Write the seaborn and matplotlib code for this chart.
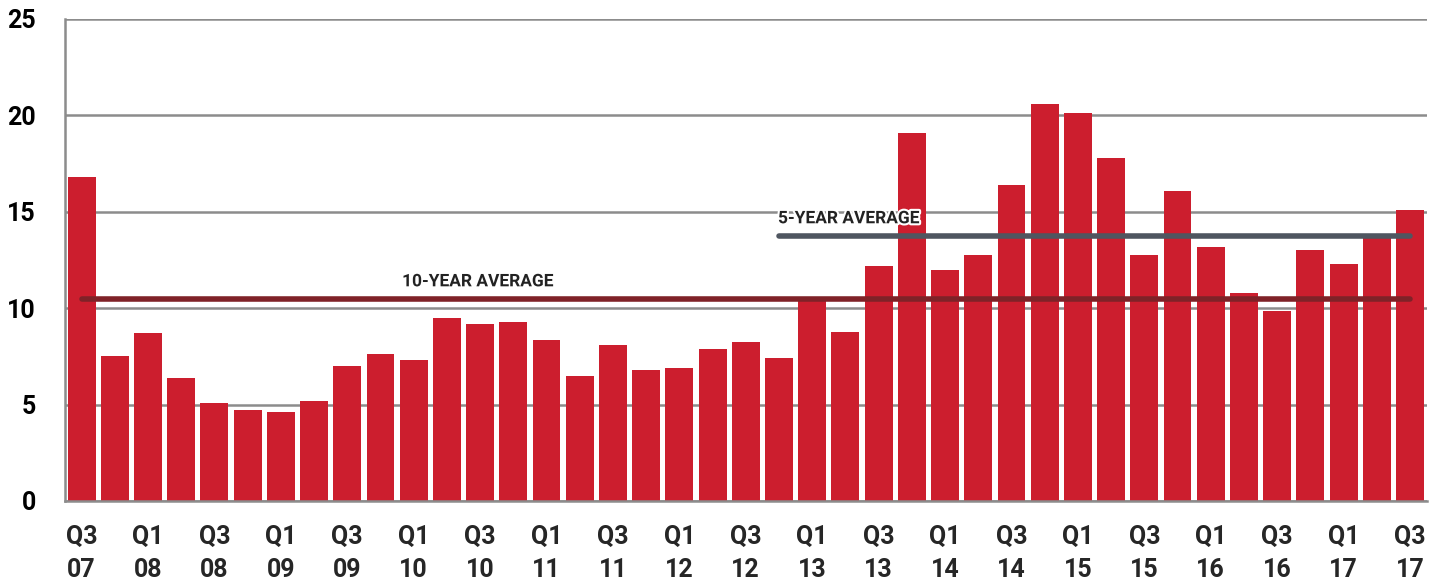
import matplotlib
matplotlib.use("Agg")
import matplotlib.pyplot as plt
import matplotlib.patheffects as pe
import seaborn as sns
import pandas as pd
import numpy as np

quarters = []
for yr in range(7, 18):
    for q in (1, 2, 3, 4):
        if (yr == 7 and q < 3) or (yr == 17 and q > 3):
            continue
        quarters.append(f"Q{q} {yr:02d}")

values = [16.8, 7.5, 8.7, 6.4, 5.1, 4.7, 4.6, 5.2, 7.0, 7.6,
          7.3, 9.5, 9.2, 9.3, 8.35, 6.5, 8.1, 6.8, 6.9, 7.9,
          8.25, 7.4, 10.5, 8.75, 12.2, 19.1, 12.0, 12.75, 16.4, 20.6,
          20.1, 17.8, 12.75, 16.1, 13.2, 10.8, 9.85, 13.0, 12.3, 13.8,
          15.1]

avg10_value = 10.48
avg5_value = 13.75
avg10_label = "10-YEAR AVERAGE"
avg5_label = "5-YEAR AVERAGE"
avg5_start = "Q4 12"
yticks = [0, 5, 10, 15, 20, 25]

df = pd.DataFrame({"quarter": quarters, "value": values})

sns.set_theme(style="white")
plt.rcParams['font.family'] = ['Roboto', 'DejaVu Sans']

fig = plt.figure(figsize=(14.39, 5.85), dpi=100)
ax = fig.add_axes([65 / 1439, 1 - 501 / 585, (1426.6 - 65) / 1439, (501 - 19) / 585])

grid_c = "#8c8c8c"
bar_c = "#cc1e2e"

sns.barplot(data=df, x="quarter", y="value", color=bar_c, saturation=1,
            width=0.84, ax=ax, zorder=2)
for p in ax.patches:
    p.set_edgecolor("none")

ax.set_xlim(-0.5, len(quarters) - 0.5)
ax.set_ylim(0, 25)
ax.set_yticks(yticks)
ax.set_yticklabels([str(t) for t in yticks], fontsize=18, fontweight="bold")
ax.yaxis.grid(True, color=grid_c, linewidth=1.8, zorder=0)
ax.set_axisbelow(True)

# x ticks: marks at boundaries every 2 categories; labels at bar centers
n = len(quarters)
ax.set_xticks([i - 0.5 for i in range(0, n, 2)])
ax.set_xticklabels([])
ax.set_xticks(list(range(0, n, 2)), minor=True)
ax.set_xticklabels([q.replace(" ", "\n") for q in quarters[0::2]], minor=True,
                   fontsize=18, fontweight="bold", linespacing=1.5)
ax.tick_params(axis="x", which="major", length=7, width=1.8, color=grid_c, direction="out")
ax.tick_params(axis="x", which="minor", length=0, pad=17)
ax.tick_params(axis="y", length=10, width=1.8, color=grid_c, pad=11, labelcolor="black")
ax.tick_params(axis="x", labelcolor="black")

for s in ["top", "right"]:
    ax.spines[s].set_visible(False)
ax.spines["left"].set_color(grid_c)
ax.spines["left"].set_linewidth(1.8)
ax.spines["bottom"].set_color(grid_c)
ax.spines["bottom"].set_linewidth(1.8)
ax.set_xlabel("")
ax.set_ylabel("")

i5 = quarters.index(avg5_start)
ax.plot([0, n - 1], [avg10_value, avg10_value], color="#7f2228", linewidth=4,
        solid_capstyle="round", zorder=3)
ax.plot([i5, n - 1], [avg5_value, avg5_value], color="#4f5660", linewidth=4,
        solid_capstyle="round", zorder=3)

halo = [pe.withStroke(linewidth=3, foreground="white")]
ax.text(9.65, avg10_value + 0.5, avg10_label, fontsize=12.5, fontweight="bold",
        color="#222222", ha="left", va="bottom", path_effects=halo, zorder=4)
ax.text(i5 - 0.03, avg5_value + 0.5, avg5_label, fontsize=12.5, fontweight="bold",
        color="#222222", ha="left", va="bottom", path_effects=halo, zorder=4)

fig.savefig("out.png", dpi=100)
